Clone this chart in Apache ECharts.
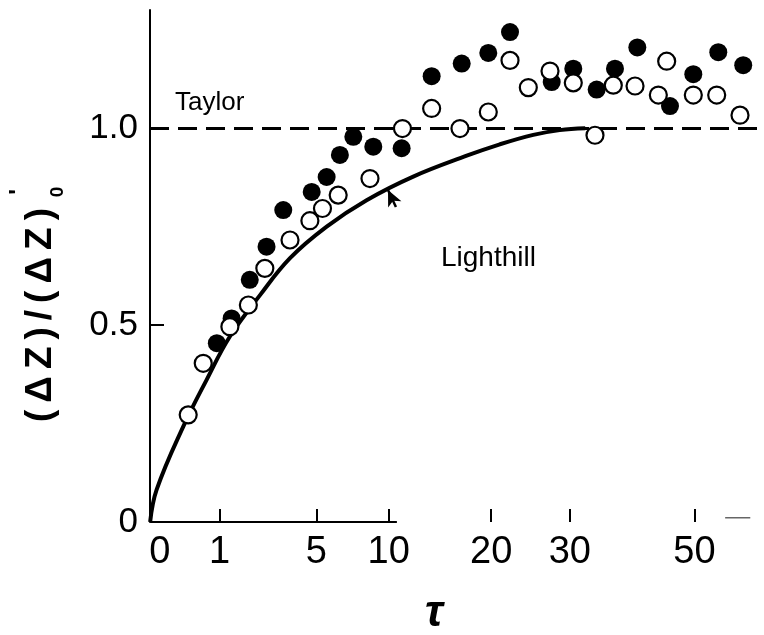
<!DOCTYPE html>
<html>
<head>
<meta charset="utf-8">
<script src="https://cdn.jsdelivr.net/npm/echarts@6/dist/echarts.min.js"></script>
<style>
html,body{margin:0;padding:0;background:#fff;}
#chart{width:764px;height:635px;}
</style>
</head>
<body>
<div id="chart"></div>
<script>
// ---- data (tau values, ratio values) ----
const filledTau = [0.93,1.33,1.92,2.56,3.29,4.74,5.61,6.44,7.34,8.79,11.07,13.77,16.77,19.67,22.21,27.52,30.49,33.88,36.66,40.2,45.67,49.79,54.4,59.2];
const filledVal = [0.454,0.517,0.615,0.699,0.792,0.838,0.876,0.932,0.978,0.953,0.949,1.132,1.164,1.191,1.244,1.117,1.151,1.098,1.151,1.205,1.056,1.137,1.193,1.160];

const openTau = [0.358,0.625,1.28,1.87,2.49,3.61,4.64,5.36,6.33,8.54,11.14,13.77,16.59,19.67,22.21,24.47,27.29,30.49,33.63,36.4,39.83,43.68,45.1,49.79,54.1,58.57];
const openVal = [0.272,0.403,0.496,0.551,0.644,0.716,0.765,0.796,0.830,0.872,0.999,1.050,0.999,1.041,1.172,1.103,1.145,1.115,0.982,1.109,1.107,1.084,1.170,1.084,1.084,1.033];

const lighthillTau = [0.0125,0.038,0.286,0.695,1.28,2.30,3.61,5.61,8.29,12.08,17.3,21.0,25.1,28.6,32.2];
const lighthillVal = [0,0.082,0.242,0.361,0.471,0.576,0.670,0.750,0.817,0.877,0.930,0.959,0.983,0.995,1.0];

const taylorValue = 1.0;

const xTickTau = [1,5,10,20,30,50];
const xLabelTau = [0,1,5,10,20,30,50];
const xLabelText = ['0','1','5','10','20','30','50'];
const yTickValues = [0.5,1.0];
const yLabelValues = [0,0.5,1.0];
const yLabelText = ['0','0.5','1.0'];

// visible fragments of the (faded) tau axis line
const axisLineTau = [0.0125,10.67];
const axisFragTau = [55.7,60.6];
const axisFragVal = 0.011;

// pointer arrow to the Lighthill curve: [tail, tip]
const arrowTau = [10.59,9.94];
const arrowVal = [0.80,0.843];

// ---- scale: the tau axis is drawn on a square-root scale ----
const X_MIN = 0.11, X_MAX = 7.96;
const sq = t => Math.sqrt(t);
const labelPos = xLabelTau.map(t => t === 0 ? 0.237 : sq(t));
const pairs = (ts, vs) => ts.map((t, i) => [sq(t), vs[i]]);

const chart = echarts.init(document.getElementById('chart'), null, {renderer: 'canvas'});
const FONT = '"Liberation Sans", Arial, sans-serif';

const option = {
  backgroundColor: '#ffffff',
  animation: false,
  grid: {left: 150, right: 0, top: 10, bottom: 113, containLabel: false},
  xAxis: {
    type: 'value', min: X_MIN, max: X_MAX,
    axisLine: {show: false},
    axisTick: {show: true, inside: true, length: 13, customValues: xTickTau.map(sq),
               lineStyle: {color: '#000', width: 2}},
    axisLabel: {
      show: true, customValues: labelPos, margin: 12,
      fontFamily: FONT, fontSize: 38, color: '#000',
      formatter: v => {
        let best = 0, d = 1e9;
        labelPos.forEach((p, i) => { if (Math.abs(p - v) < d) { d = Math.abs(p - v); best = i; } });
        return xLabelText[best];
      }
    },
    splitLine: {show: false}
  },
  yAxis: {
    type: 'value', min: 0, max: 1.3,
    axisLine: {show: true, lineStyle: {color: '#000', width: 2}},
    axisTick: {show: true, inside: true, length: 14, customValues: yTickValues,
               lineStyle: {color: '#000', width: 2}},
    axisLabel: {
      show: true, customValues: yLabelValues, margin: 12,
      fontFamily: FONT, fontSize: 35, color: '#000',
      formatter: v => {
        const i = yLabelValues.findIndex(x => Math.abs(x - v) < 1e-6);
        return i >= 0 ? yLabelText[i] : '';
      }
    },
    splitLine: {show: false}
  },
  series: [
    {
      name: 'axis', type: 'line', symbol: 'none', silent: true, z: 1,
      lineStyle: {color: '#000', width: 2},
      data: axisLineTau.map(t => [sq(t), 0])
    },
    {
      name: 'axisFrag', type: 'line', symbol: 'none', silent: true, z: 1,
      lineStyle: {color: '#666', width: 1.5},
      data: axisFragTau.map(t => [sq(t), axisFragVal])
    },
    {
      name: 'Lighthill', type: 'line', smooth: 0.4, symbol: 'none', z: 3,
      lineStyle: {color: '#000', width: 4},
      data: pairs(lighthillTau, lighthillVal),
      markLine: {
        silent: true, symbol: ['none', 'arrow'], symbolSize: [11, 16],
        lineStyle: {color: '#000', width: 2.5, type: 'solid'},
        label: {show: false},
        data: [[
          {coord: [sq(arrowTau[0]), arrowVal[0]]},
          {coord: [sq(arrowTau[1]), arrowVal[1]]}
        ]]
      }
    },
    {
      name: 'Taylor', type: 'line', symbol: 'none', data: [], z: 2,
      markLine: {
        silent: true, symbol: ['none', 'none'],
        lineStyle: {color: '#000', width: 3, type: [19, 9]},
        label: {show: false},
        data: [{yAxis: taylorValue}]
      }
    },
    {
      name: 'filled', type: 'scatter', symbol: 'circle', symbolSize: 18, z: 4,
      itemStyle: {color: '#000', opacity: 1},
      data: pairs(filledTau, filledVal)
    },
    {
      name: 'open', type: 'scatter', symbol: 'circle', symbolSize: 17, z: 5,
      itemStyle: {color: '#fff', borderColor: '#000', borderWidth: 2.2, opacity: 1},
      data: pairs(openTau, openVal)
    }
  ],
  graphic: [
    {type: 'text', x: 175, y: 102.5,
     style: {text: 'Taylor', font: '26px ' + FONT, fill: '#000', textAlign: 'left', textVerticalAlign: 'middle'}},
    {type: 'text', x: 441, y: 258.5,
     style: {text: 'Lighthill', font: '28px ' + FONT, fill: '#000', textAlign: 'left', textVerticalAlign: 'middle'}},
    {type: 'text', x: 434, y: 614,
     style: {text: 'τ', font: 'bold italic 44px ' + FONT, fill: '#000', textAlign: 'center', textVerticalAlign: 'middle'}},
    {
      type: 'group', x: 41, y: 422, rotation: Math.PI / 2,
      children: [
        {type: 'text', x: 0, y: 0,
         style: {
           text: '{g|(}{s| }{g|Δ}{s| }{g|Z}{s| }{g|)}{s| }{g|/}{s| }{g|(}{s| }{g|Δ}{s| }{g|Z}{s| }{g|)}',
           textAlign: 'left', textVerticalAlign: 'middle', fill: '#000',
           rich: {
             g: {fontSize: 37, fontWeight: 'bold', fontFamily: FONT, fill: '#000'},
             s: {width: 7, fontSize: 10}
           }
         }},
        {type: 'text', x: 230, y: -22,
         style: {text: '\'', font: 'bold 24px ' + FONT, fill: '#000', textAlign: 'center', textVerticalAlign: 'middle'}},
        {type: 'text', x: 230, y: 17,
         style: {text: '0', font: 'bold 19px ' + FONT, fill: '#000', textAlign: 'center', textVerticalAlign: 'middle'}}
      ]
    }
  ]
};
chart.setOption(option);
</script>
</body>
</html>
